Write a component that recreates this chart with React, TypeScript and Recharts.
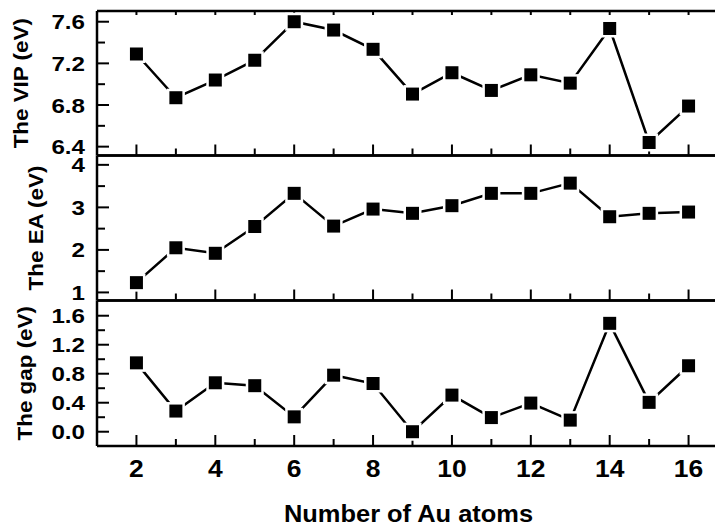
import React from "react";
import { LineChart, Line, XAxis, YAxis } from "recharts";

// Number of Au atoms in the cluster
const atoms = [2, 3, 4, 5, 6, 7, 8, 9, 10, 11, 12, 13, 14, 15, 16];

// vertical ionization potential (eV)
const vip = [7.29, 6.87, 7.04, 7.23, 7.6, 7.52, 7.335, 6.905, 7.11, 6.94, 7.09, 7.01, 7.535, 6.44, 6.79];
// electron affinity (eV)
const ea = [1.23, 2.05, 1.92, 2.55, 3.33, 2.56, 2.96, 2.86, 3.04, 3.33, 3.33, 3.57, 2.78, 2.86, 2.89];
// HOMO-LUMO gap (eV)
const gap = [0.95, 0.285, 0.675, 0.635, 0.205, 0.78, 0.665, 0.0, 0.505, 0.195, 0.395, 0.16, 1.495, 0.405, 0.91];

const xMajor = [2, 4, 6, 8, 10, 12, 14, 16];
const xMinor = [3, 5, 7, 9, 11, 13, 15];
const xAll = [2, 3, 4, 5, 6, 7, 8, 9, 10, 11, 12, 13, 14, 15, 16];

const vipMajor = [6.4, 6.8, 7.2, 7.6];
const vipMinor = [6.6, 7.0, 7.4];
const eaMajor = [1, 2, 3, 4];
const eaMinor = [1.5, 2.5, 3.5];
const gapMajor = [0, 0.4, 0.8, 1.2, 1.6];
const gapMinor = [0.2, 0.6, 1.0, 1.4];

const data = atoms.map((n, i) => ({ n, vip: vip[i], ea: ea[i], gap: gap[i] }));

const FONT = '"Liberation Sans", Arial, Helvetica, sans-serif';
const W = 715;
const H = 524;
const LEFT = 89;
const RIGHT = -5; // the frame runs past the right edge of the picture

const axisStroke = { stroke: "#000", strokeWidth: 2.5 };
const tickStroke = { stroke: "#000", strokeWidth: 2 };
const noLabel = () => <g />;

const SquareDot = (props: any) => {
  const { cx, cy, index } = props;
  if (cx == null || cy == null) return <g key={`e-${index}`} />;
  return (
    <rect
      key={`sq-${index}`}
      x={cx - 7.75}
      y={cy - 7.75}
      width={15.5}
      height={15.5}
      fill="#000"
      stroke="#fff"
      strokeWidth={2.5}
    />
  );
};

// horizontally widened tick text, like the original's bold labels
const WideTick = (props: any) => {
  const { x, y, payload, fmt, anchor, size, dyFix } = props;
  const label = fmt ? fmt(payload.value) : String(payload.value);
  return (
    <g transform={`translate(${x},${y}) scale(1.15,1)`}>
      <text
        x={0}
        y={0}
        dy={dyFix}
        textAnchor={anchor}
        fontFamily={FONT}
        fontWeight="bold"
        fontSize={size}
        fill="#000"
      >
        {label}
      </text>
    </g>
  );
};

interface PanelProps {
  dataKey: string;
  domain: [number, number];
  major: number[];
  minor: number[];
  fmt: (v: number) => string;
  title: string;
  titleX: number;
  top: number;
  bottom: number;
  topTick: number;
  last?: boolean;
}

function Panel({ dataKey, domain, major, minor, fmt, title, titleX, top, bottom, topTick, last }: PanelProps) {
  const labH = 60;
  const marginBottom = last ? H - bottom - labH : H - bottom;
  const yTitle = (p: any) => {
    const vb = p.viewBox || {};
    const cy = vb.height ? vb.y + vb.height / 2 : (top + bottom) / 2;
    return (
      <g transform={`translate(${titleX},${cy}) rotate(-90) scale(1.12,1)`}>
        <text x={0} y={0} textAnchor="middle" fontFamily={FONT} fontWeight="bold" fontSize={20} fill="#000">
          {title}
        </text>
      </g>
    );
  };
  const xTitle = (p: any) => {
    const vb = p.viewBox || {};
    const cx = vb.width ? vb.x + vb.width / 2 : (LEFT + W - RIGHT) / 2;
    return (
      <g transform={`translate(${cx - 4},514) scale(1.06,1)`}>
        <text x={0} y={0} textAnchor="middle" fontFamily={FONT} fontWeight="bold" fontSize={24} fill="#000">
          Number of Au atoms
        </text>
      </g>
    );
  };
  return (
    <div style={{ position: "absolute", left: 0, top: 0 }}>
      <LineChart width={W} height={H} data={data} margin={{ top, right: RIGHT, bottom: marginBottom, left: 0 }}>
        <XAxis
          xAxisId="bot"
          type="number"
          dataKey="n"
          domain={[1, 17]}
          allowDataOverflow
          ticks={xMajor}
          interval={0}
          orientation="bottom"
          mirror
          height={1}
          tick={noLabel}
          tickSize={11}
          axisLine={axisStroke}
          tickLine={tickStroke}
        />
        <XAxis
          xAxisId="botMinor"
          type="number"
          dataKey="n"
          domain={[1, 17]}
          allowDataOverflow
          ticks={xMinor}
          interval={0}
          orientation="bottom"
          mirror
          height={1}
          tick={noLabel}
          tickSize={6}
          axisLine={false}
          tickLine={tickStroke}
        />
        <XAxis
          xAxisId="top"
          type="number"
          dataKey="n"
          domain={[1, 17]}
          allowDataOverflow
          ticks={xAll}
          interval={0}
          orientation="top"
          mirror
          height={1}
          tick={noLabel}
          tickSize={topTick}
          axisLine={axisStroke}
          tickLine={topTick > 0 ? tickStroke : false}
        />
        {last && (
          <XAxis
            xAxisId="lab"
            type="number"
            dataKey="n"
            domain={[1, 17]}
            allowDataOverflow
            ticks={xMajor}
            interval={0}
            orientation="bottom"
            height={labH}
            tickSize={0}
            tickMargin={15}
            axisLine={false}
            tickLine={false}
            tick={<WideTick anchor="middle" size={23} dyFix={16} />}
            label={xTitle}
          />
        )}
        <YAxis
          yAxisId="maj"
          type="number"
          domain={domain}
          allowDataOverflow
          ticks={major}
          interval={0}
          mirror
          width={1}
          tick={noLabel}
          tickSize={12}
          axisLine={axisStroke}
          tickLine={tickStroke}
        />
        <YAxis
          yAxisId="min"
          type="number"
          domain={domain}
          allowDataOverflow
          ticks={minor}
          interval={0}
          mirror
          width={1}
          tick={noLabel}
          tickSize={7}
          axisLine={false}
          tickLine={tickStroke}
        />
        <YAxis
          yAxisId="lab"
          type="number"
          domain={domain}
          allowDataOverflow
          ticks={major}
          interval={0}
          width={LEFT}
          tickSize={0}
          tickMargin={12}
          axisLine={false}
          tickLine={false}
          tick={<WideTick anchor="end" size={21} dyFix={7.5} fmt={fmt} />}
          label={yTitle}
        />
        <Line
          xAxisId="bot"
          yAxisId="maj"
          dataKey={dataKey}
          type="linear"
          stroke="#000"
          strokeWidth={2.5}
          dot={SquareDot}
          activeDot={false}
          isAnimationActive={false}
        />
      </LineChart>
    </div>
  );
}

export default function App() {
  return (
    <div
      style={{
        position: "relative",
        width: W,
        height: H,
        marginBottom: -8,
        background: "#fff",
      }}
    >
      <Panel
        dataKey="vip"
        domain={[6.315, 7.703]}
        major={vipMajor}
        minor={vipMinor}
        fmt={(v) => v.toFixed(1)}
        title="The VIP (eV)"
        titleX={20}
        top={3}
        bottom={147.5}
        topTick={4}
      />
      <Panel
        dataKey="ea"
        domain={[0.81, 4.22]}
        major={eaMajor}
        minor={eaMinor}
        fmt={(v) => String(v)}
        title="The EA (eV)"
        titleX={35}
        top={147.5}
        bottom={292.5}
        topTick={0}
      />
      <Panel
        dataKey="gap"
        domain={[-0.197, 1.81]}
        major={gapMajor}
        minor={gapMinor}
        fmt={(v) => v.toFixed(1)}
        title="The gap (eV)"
        titleX={24}
        top={292.5}
        bottom={438}
        topTick={0}
        last
      />
    </div>
  );
}
